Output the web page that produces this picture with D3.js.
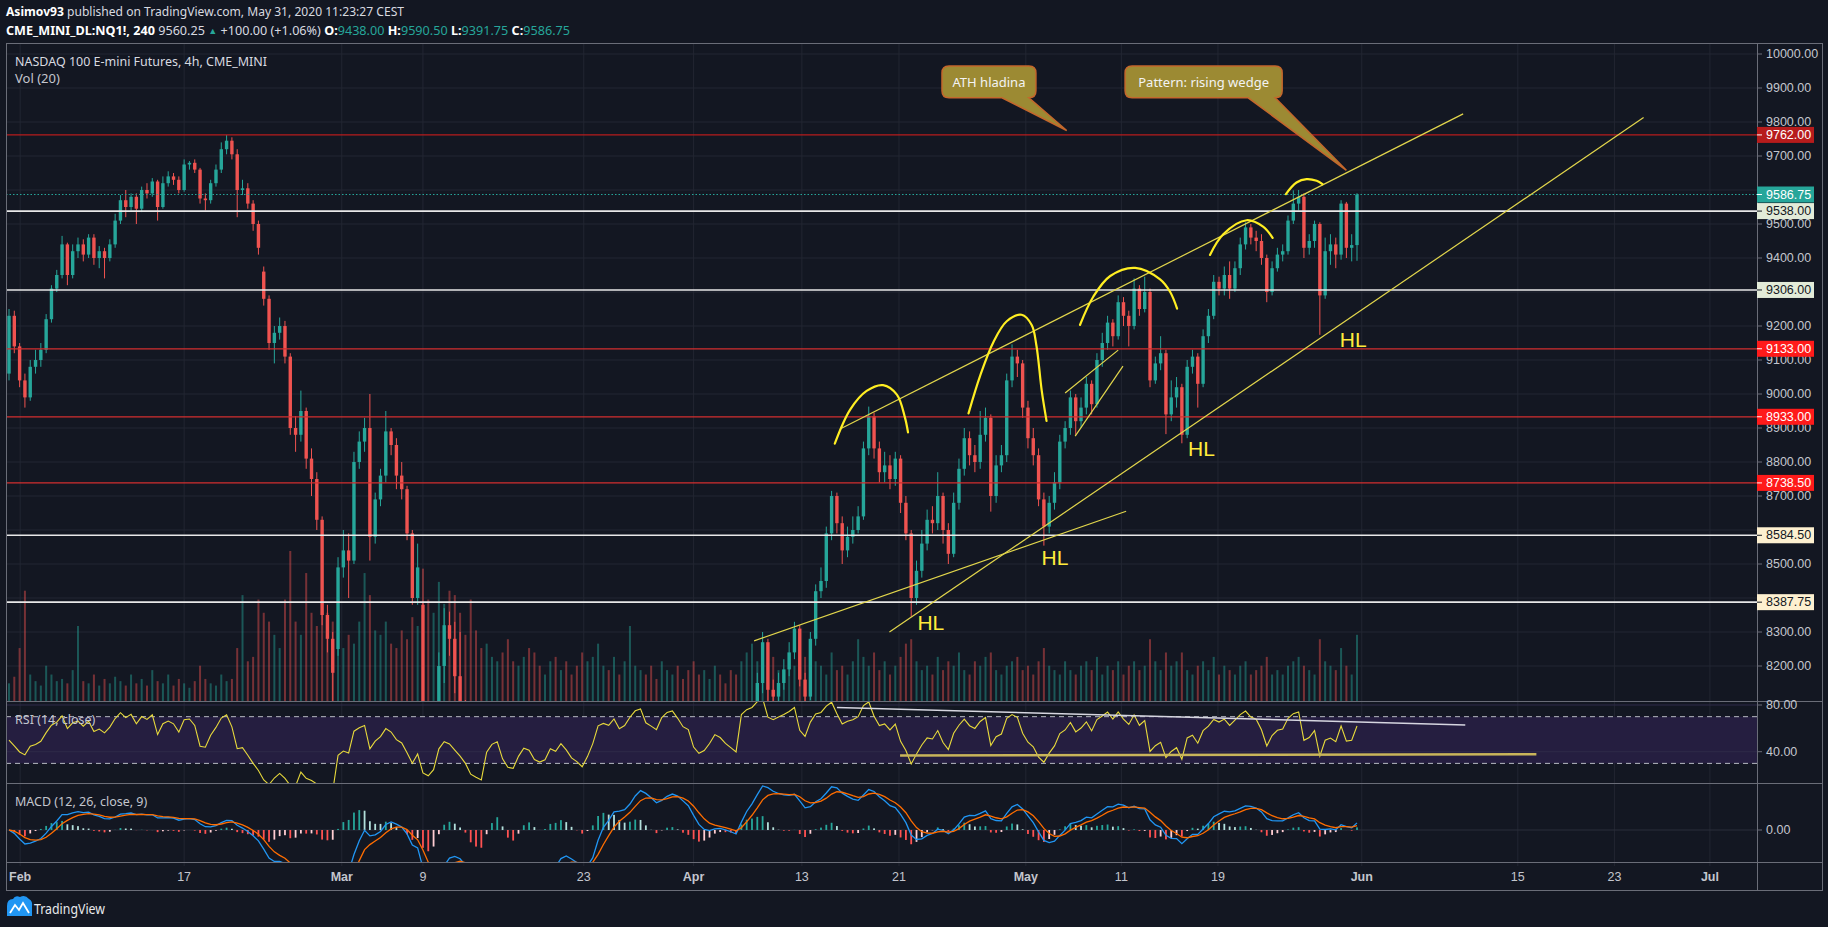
<!DOCTYPE html>
<html><head><meta charset="utf-8">
<script src="https://cdn.jsdelivr.net/npm/d3@7"></script>
<style>html,body{margin:0;padding:0;background:#131722;overflow:hidden}svg{display:block}</style>
</head><body><svg id="c" width="1828" height="927"></svg>
<script>
// ---------------- DATA ----------------
const opens=[
9060,9230,9140,9040,8990,9080,9100,9130,9220,9310,
9350,9440,9350,9420,9440,9410,9460,9400,9420,9400,
9440,9510,9570,9550,9580,9545,9600,9590,9625,9550,
9620,9640,9630,9600,9675,9680,9660,9575,9570,9620,
9660,9720,9745,9705,9600,9605,9560,9500,9360,9280,
9150,9180,9200,9110,8900,8880,8950,8810,8750,8630,
8350,8280,8250,8490,8540,8510,8800,8860,8900,8580,
8690,8760,8890,8850,8760,8720,8590,8400,8380,7980,
7850,7920,8200,8320,8280,8170,8050,7880,7500,7350,
7200,7600,7750,7450,7350,7000,6950,7150,7300,7250,
7000,6920,6950,7100,7050,7150,7050,6900,6820,6700,
6800,6950,7250,7300,7280,7400,7300,7350,7500,7650,
7700,7580,7550,7520,7700,7800,7830,7780,7720,7700,
7550,7480,7500,7550,7620,7600,7560,7530,7500,7850,
7950,8000,8150,8270,8130,8110,8150,8190,8240,8310,
8160,8110,8280,8420,8450,8590,8700,8620,8540,8580,
8600,8640,8840,8935,8840,8770,8790,8750,8810,8680,
8590,8400,8480,8560,8630,8620,8700,8600,8530,8680,
8780,8870,8820,8800,8880,8930,8700,8790,8820,9040,
9110,9090,8960,8870,8820,8690,8610,8680,8740,8860,
8900,8990,8920,8960,9030,8970,9100,9150,9210,9170,
9270,9230,9200,9310,9250,9300,9040,9090,9120,8940,
8990,9020,8880,9080,9110,9030,9170,9230,9330,9310,
9350,9310,9370,9440,9490,9460,9450,9400,9300,9370,
9410,9420,9510,9560,9580,9430,9450,9500,9290,9420,
9440,9410,9560,9430,9438];
const highs=[
9250,9245,9150,9060,9100,9130,9150,9235,9320,9365,
9465,9445,9440,9460,9455,9470,9470,9435,9430,9455,
9530,9585,9600,9590,9590,9610,9620,9635,9630,9640,
9655,9650,9640,9690,9685,9690,9665,9590,9630,9675,
9740,9762,9755,9720,9630,9620,9570,9510,9375,9290,
9200,9225,9215,9120,8935,9010,8960,8840,8770,8640,
8380,8300,8520,8600,8590,8830,8890,8930,9000,8710,
8780,8950,8900,8870,8800,8730,8600,8560,8390,8050,
8000,8240,8370,8360,8330,8300,8100,7900,7550,7400,
7680,7850,7900,7500,7400,7100,7250,7400,7380,7280,
7050,7050,7180,7150,7230,7200,7080,6950,6850,6880,
7000,7290,7350,7360,7480,7430,7400,7540,7680,7740,
7720,7620,7600,7730,7830,7870,7860,7800,7760,7720,
7580,7540,7600,7660,7650,7630,7590,7560,7880,7990,
8060,8180,8300,8280,8160,8180,8220,8270,8330,8320,
8180,8300,8440,8490,8610,8715,8710,8640,8610,8640,
8670,8860,8963,8945,8860,8830,8820,8830,8820,8700,
8600,8510,8600,8660,8670,8770,8710,8620,8710,8810,
8900,8890,8850,8950,8960,8940,8820,8850,9060,9146,
9130,9100,8980,8900,8840,8710,8700,8770,8880,8920,
9010,9000,8990,9050,9040,9120,9180,9230,9220,9290,
9285,9245,9340,9320,9345,9310,9110,9170,9130,9040,
9050,9030,9100,9130,9120,9190,9250,9350,9345,9375,
9390,9390,9460,9505,9500,9480,9470,9410,9390,9430,
9440,9525,9599,9600,9590,9470,9510,9505,9460,9470,
9460,9570,9565,9470,9590.5];
const lows=[
9040,9120,9020,8960,8980,9060,9080,9120,9210,9300,
9340,9320,9340,9400,9390,9400,9380,9370,9340,9390,
9430,9500,9520,9540,9500,9535,9575,9580,9510,9545,
9610,9615,9590,9595,9660,9650,9560,9540,9560,9610,
9650,9705,9690,9520,9585,9545,9480,9410,9260,9130,
9090,9160,9090,8880,8830,8860,8780,8700,8600,8320,
8240,8050,8230,8460,8400,8500,8780,8830,8510,8560,
8670,8740,8820,8720,8690,8570,8380,8380,7750,7780,
7800,7900,8150,8230,8120,8000,7850,7450,7200,7100,
7150,7550,7650,7250,6950,6880,6900,7100,7150,6920,
6850,6880,6920,6980,7000,6980,6850,6750,6630,6650,
6760,6930,7200,7220,7250,7250,7270,7330,7480,7620,
7540,7500,7480,7500,7680,7770,7740,7680,7650,7500,
7440,7450,7470,7530,7560,7520,7490,7460,7480,7820,
7920,7980,8120,8080,8080,8090,8130,8170,8220,8140,
8080,8100,8260,8400,8430,8570,8590,8500,8520,8560,
8590,8630,8820,8810,8740,8740,8720,8730,8650,8570,
8345,8380,8460,8540,8590,8600,8560,8500,8520,8660,
8760,8790,8770,8780,8860,8654,8680,8770,8800,9020,
9050,8930,8840,8790,8670,8554,8590,8660,8720,8840,
8880,8880,8900,8940,8940,8960,9080,9130,9140,9160,
9200,9140,9190,9230,9240,9020,9030,9070,8882,8920,
8960,8855,8870,9060,8960,9020,9150,9220,9290,9290,
9280,9300,9350,9425,9440,9420,9380,9270,9290,9360,
9390,9410,9500,9540,9400,9410,9430,9174,9280,9380,
9370,9395,9400,9390,9391.75];
const closes=[
9230,9140,9040,8990,9080,9100,9130,9220,9310,9350,
9440,9350,9420,9440,9410,9460,9400,9420,9400,9440,
9510,9570,9550,9580,9545,9600,9590,9625,9550,9620,
9640,9630,9600,9675,9680,9660,9575,9570,9620,9660,
9720,9745,9705,9600,9605,9560,9500,9430,9280,9150,
9180,9200,9110,8900,8880,8950,8810,8750,8630,8350,
8280,8180,8490,8540,8510,8800,8860,8900,8580,8690,
8760,8890,8850,8760,8720,8590,8400,8490,7980,7850,
7920,8200,8320,8280,8170,8050,7880,7500,7350,7200,
7600,7750,7800,7350,7000,6950,7150,7300,7250,7000,
6920,6950,7100,7050,7150,7050,6900,6820,6700,6800,
6950,7250,7300,7280,7400,7300,7350,7500,7650,7700,
7580,7550,7520,7700,7800,7830,7780,7720,7700,7550,
7480,7500,7550,7620,7600,7560,7530,7500,7850,7950,
8000,8150,8270,8130,8110,8150,8190,8240,8310,8160,
8110,8280,8420,8450,8590,8700,8620,8540,8580,8600,
8640,8840,8935,8840,8770,8790,8750,8810,8680,8590,
8400,8480,8560,8630,8620,8700,8600,8530,8680,8780,
8870,8820,8800,8880,8930,8700,8790,8820,9040,9110,
9090,8960,8870,8820,8690,8610,8680,8740,8860,8900,
8990,8920,8960,9030,8970,9100,9150,9210,9170,9270,
9230,9200,9310,9250,9300,9040,9090,9120,8940,8990,
9020,8880,9080,9110,9030,9170,9230,9330,9310,9350,
9310,9370,9440,9490,9460,9450,9400,9300,9370,9410,
9420,9510,9560,9580,9430,9450,9500,9290,9420,9440,
9410,9560,9430,9438,9586.75];
const volumes=[
40,55,120,250,60,45,35,80,60,45,
50,40,70,170,45,40,60,35,50,40,
55,45,35,60,40,50,35,70,45,40,
60,35,50,40,30,45,80,50,40,35,
60,45,50,120,240,90,100,230,200,180,
150,120,230,340,180,150,290,200,170,220,
200,180,210,120,150,130,180,290,240,160,
150,180,130,120,160,140,190,170,300,230,
200,270,220,250,240,200,150,230,160,120,
130,100,90,110,140,90,80,100,120,110,
80,60,90,100,70,90,60,80,110,90,
100,130,80,70,100,60,90,170,80,70,
60,80,50,90,70,60,80,50,70,90,
60,70,50,80,60,40,70,60,90,110,
130,90,110,80,100,70,60,90,80,120,
100,70,90,80,60,110,70,80,60,90,
140,100,80,110,70,90,60,80,100,130,
140,90,70,80,60,100,70,90,80,110,
70,60,90,80,100,110,70,60,80,90,
100,70,80,60,90,120,80,70,60,90,
70,60,80,90,70,100,60,80,70,90,
60,80,90,70,80,140,90,70,110,80,
90,110,70,60,80,90,70,100,60,80,
70,60,80,90,60,70,80,100,60,70,
60,80,90,100,80,70,60,140,90,80,
70,120,80,60,150];

const priceTicks=d3.range(8200,10001,100);
const timeTickPos=[2.1,33,62.7,78,108.3,129,149.4,167.7,191.6,209.6,227.8,254.9,284.3,302.5,320.5];
const timeTickLabels=["Feb","17","Mar","9","23","Apr","13","21","May","11","19","Jun","15","23","Jul"];
const levelPrices=[9762,9586.75,9538,9306,9133,8933,8738.5,8584.5,8387.75];
const levelKinds=["ath","last","sr","sr","res","res","res","sup","sup"];
const rsiTicks=[80,40];
const rsiBands=[70,30];
// indicator settings as labelled on the chart (4h bars); each data point here spans two 4h bars
const rsiLength=14, macdFast=12, macdSlow=26, macdSignal=9, barsPerPoint=2;

const trendLines=[
 [[156.6,8897],[274.0,9824]],
 [[165.9,8300],[308.0,9813]],
 [[140.4,8274],[210.5,8655]],
 [[199.0,9003],[209.0,9129]],
 [[200.9,8876],[209.9,9082]]
];
const arcs=[
 [[155.6,8854],[158.5,8954],[161.6,9009],[164.7,9026],[167.3,8998],[168.8,8932],[169.4,8887]],
 [[180.8,8943],[183.0,9054],[185.5,9153],[188.0,9214],[190.8,9233],[192.7,9203],[193.6,9142],[194.6,9009],[195.5,8921]],
 [[201.8,9203],[204.3,9286],[207.5,9347],[212.2,9371],[216.9,9337],[218.8,9300],[220.1,9251]],
 [[226.3,9409],[228.8,9470],[233.2,9511],[236.3,9492],[238.1,9459]],
 [[240.6,9588],[242.6,9622],[244.5,9632],[246.4,9627],[247.5,9617]]
];
const hlLabels=[[173.7,8329],[197.1,8518],[224.7,8839],[253.3,9160]];
const calloutTexts=["ATH hladina","Pattern: rising wedge"];
const calloutBoxI=[[175.8,193.5],[210.3,239.9]];
const calloutBoxP=[[9965,9871],[9965,9871]];
const calloutTip=[[199.3,9775],[252.0,9658]];
const rsiTrend=[[[156.0,77.8],[274.4,62.9]]];
const rsiSupport=[[[167.9,36.7],[287.8,37.8]]];

// ---------------- LAYOUT / STYLE ----------------
const W=1828,H=927;
const L=6,R=1757,RB=1822,T=43,MB=701,RSIB=783,MACDB=862,AXB=890;
const BG="#131722",UP="#26a69a",DN="#ef5350",GRID="#222632",FRAME="#6a6d78",TXT="#c3c6ce";
const levelStyle={
 ath:{line:"#b71c1c",w:1.4,dash:null,box:"#b71c1c",txt:"#ffffff"},
 last:{line:UP,w:1,dash:"1.5,2",box:"#26a69a",txt:"#ffffff"},
 sr:{line:"#e8e8e8",w:1.6,dash:null,box:"#e2ebd8",txt:"#131722"},
 res:{line:"#d32f2f",w:1.2,dash:null,box:"#ff1a1a",txt:"#ffffff"},
 sup:{line:"#e8e8e8",w:1.6,dash:null,box:"#fdf0d0",txt:"#131722"}
};
const FONT="'Liberation Sans', Arial, sans-serif";
const UIFONT="'Noto Sans', 'Open Sans', sans-serif";

const svg=d3.select("#c");
svg.append("rect").attr("width",W).attr("height",H).attr("fill",BG);

const x=d3.scaleLinear().domain([0,254]).range([9,1357]);
const y=d3.scaleLinear().domain([8200,10000]).range([666,54]);
const yv=d3.scaleLinear().domain([0,340]).range([MB,MB-150]);
const yr=d3.scaleLinear().domain([40,80]).range([751.7,705]);

const defs=svg.append("defs");
function clip(id,x0,y0,x1,y1){defs.append("clipPath").attr("id",id).append("rect").attr("x",x0).attr("y",y0).attr("width",x1-x0).attr("height",y1-y0);}
clip("cm",L,T,R,MB);clip("cr",L,MB,R,RSIB);clip("cd",L,RSIB,R,MACDB);

// ---------------- GRID ----------------
const grid=svg.append("g");
timeTickPos.forEach(t=>{const xx=x(t); if(xx<R) grid.append("line").attr("x1",xx).attr("x2",xx).attr("y1",T).attr("y2",MACDB+4).attr("stroke",GRID).attr("stroke-width",1);});
priceTicks.forEach(p=>grid.append("line").attr("x1",L).attr("x2",R).attr("y1",y(p)).attr("y2",y(p)).attr("stroke",GRID));

// ---------------- MAIN PANE ----------------
const main=svg.append("g").attr("clip-path","url(#cm)");
const idx=d3.range(closes.length);
main.append("g").selectAll("rect").data(idx).join("rect")
 .attr("x",i=>x(i)-1).attr("width",2).attr("y",i=>yv(volumes[i])).attr("height",i=>MB-yv(volumes[i]))
 .attr("fill",i=>closes[i]>=opens[i]?UP:DN).attr("opacity",0.45);

const cg=main.append("g");
cg.selectAll("line").data(idx).join("line")
 .attr("x1",i=>x(i)).attr("x2",i=>x(i)).attr("y1",i=>y(highs[i])).attr("y2",i=>y(lows[i]))
 .attr("stroke",i=>closes[i]>=opens[i]?UP:DN).attr("stroke-width",1);
cg.selectAll("rect").data(idx).join("rect")
 .attr("x",i=>x(i)-1.7).attr("width",3.4)
 .attr("y",i=>y(Math.max(opens[i],closes[i])))
 .attr("height",i=>Math.max(1,Math.abs(y(opens[i])-y(closes[i]))))
 .attr("fill",i=>closes[i]>=opens[i]?UP:DN);

levelPrices.forEach((p,k)=>{const s=levelStyle[levelKinds[k]];
 const ln=main.append("line").attr("x1",L).attr("x2",R).attr("y1",y(p)).attr("y2",y(p)).attr("stroke",s.line).attr("stroke-width",s.w);
 if(s.dash) ln.attr("stroke-dasharray",s.dash);});

const tl=d3.line().x(d=>x(d[0])).y(d=>y(d[1]));
trendLines.forEach(t=>main.append("path").attr("d",tl(t)).attr("fill","none").attr("stroke","#e2d64c").attr("stroke-width",1.2));
const al=d3.line().x(d=>x(d[0])).y(d=>y(d[1])).curve(d3.curveCatmullRom.alpha(0.5));
arcs.forEach(a=>main.append("path").attr("d",al(a)).attr("fill","none").attr("stroke","#ffee22").attr("stroke-width",2.2).attr("stroke-linecap","round"));

hlLabels.forEach(h=>main.append("text").attr("x",x(h[0])).attr("y",y(h[1])).attr("text-anchor","middle").attr("dominant-baseline","central")
 .attr("fill","#ffeb3b").attr("font-family",FONT).attr("font-size",21).text("HL"));

function cpath(x0,y0,x1,y1,r,b0,b1,tx,ty){
 return `M${x0+r},${y0}H${x1-r}Q${x1},${y0} ${x1},${y0+r}V${y1-r}Q${x1},${y1} ${x1-r},${y1}H${b1}L${tx},${ty}L${b0},${y1}H${x0+r}Q${x0},${y1} ${x0},${y1-r}V${y0+r}Q${x0},${y0} ${x0+r},${y0}Z`;}
calloutTexts.forEach((t,k)=>{
 const x0=x(calloutBoxI[k][0]),x1=x(calloutBoxI[k][1]),y0=y(calloutBoxP[k][0]),y1=y(calloutBoxP[k][1]);
 const tx=x(calloutTip[k][0]),ty=y(calloutTip[k][1]);
 main.append("path").attr("d",cpath(x0,y0,x1,y1,7,x1-34,x1-7,tx,ty)).attr("fill","#9c8a33").attr("stroke","#c4672c").attr("stroke-width",1.5);
 main.append("text").attr("x",(x0+x1)/2).attr("y",(y0+y1)/2).attr("text-anchor","middle").attr("dominant-baseline","central")
  .attr("fill","#f3f3f3").attr("font-family",UIFONT).attr("font-size",13).text(t);
});

// ---------------- RSI ----------------
function rsiCalc(c,n){
 const seed=d3.mean(d3.range(1,Math.min(c.length,Math.ceil(n)+1)),i=>Math.abs(c[i]-c[i-1]));
 let ag=seed,al2=seed;const out=[50];
 for(let i=1;i<c.length;i++){const d=c[i]-c[i-1],g=Math.max(d,0),l=Math.max(-d,0);
  ag+=(g-ag)/n; al2+=(l-al2)/n; out.push(al2===0?100:100-100/(1+ag/al2));}
 return out;}
const rsi=rsiCalc(closes,rsiLength/barsPerPoint);
const rg=svg.append("g").attr("clip-path","url(#cr)");
rg.append("rect").attr("x",L).attr("width",R-L).attr("y",yr(rsiBands[0])).attr("height",yr(rsiBands[1])-yr(rsiBands[0])).attr("fill","#251e40");
rsiTicks.forEach(v=>rg.append("line").attr("x1",L).attr("x2",R).attr("y1",yr(v)).attr("y2",yr(v)).attr("stroke","#2e2a48"));
rsiBands.forEach(v=>rg.append("line").attr("x1",L).attr("x2",R).attr("y1",yr(v)).attr("y2",yr(v)).attr("stroke","#b7bac2").attr("stroke-dasharray","5,4"));
const rl=d3.line().x((d,i)=>x(i)).y(d=>yr(d));
rg.append("path").attr("d",rl(rsi)).attr("fill","none").attr("stroke","#e8da3c").attr("stroke-width",1.1);
const rtl=d3.line().x(d=>x(d[0])).y(d=>yr(d[1]));
rsiTrend.forEach(t=>rg.append("path").attr("d",rtl(t)).attr("stroke","#d6d6e0").attr("stroke-width",1.5).attr("fill","none"));
rsiSupport.forEach(t=>rg.append("path").attr("d",rtl(t)).attr("stroke","#c9b55a").attr("stroke-width",2.5).attr("fill","none"));

// ---------------- MACD ----------------
function ema(a,n){const k=2/(n+1),o=[a[0]];for(let i=1;i<a.length;i++)o.push(a[i]*k+o[i-1]*(1-k));return o;}
const eF=ema(closes,macdFast/barsPerPoint),eS=ema(closes,macdSlow/barsPerPoint);
const macd=eF.map((v,i)=>v-eS[i]);
const sig=ema(macd,macdSignal/barsPerPoint);
const hist=macd.map((v,i)=>v-sig[i]);
const mMax=d3.max(macd.slice(140));
const ym=d3.scaleLinear().domain([0,mMax]).range([830,786]);
const mg=svg.append("g").attr("clip-path","url(#cd)");
mg.append("line").attr("x1",L).attr("x2",R).attr("y1",ym(0)).attr("y2",ym(0)).attr("stroke","#2a2e3a");
mg.selectAll("rect").data(idx).join("rect")
 .attr("x",i=>x(i)-0.9).attr("width",1.8)
 .attr("y",i=>Math.min(ym(0),ym(hist[i]))).attr("height",i=>Math.abs(ym(hist[i])-ym(0)))
 .attr("fill",i=>{const h=hist[i],p=i?hist[i-1]:0;return h>=0?(h>=p?"#26a69a":"#b2dfdb"):(h<p?"#ff5252":"#ffcdd2");});
const ml=d3.line().x((d,i)=>x(i)).y(d=>ym(d));
mg.append("path").attr("d",ml(macd)).attr("fill","none").attr("stroke","#2196f3").attr("stroke-width",1.3);
mg.append("path").attr("d",ml(sig)).attr("fill","none").attr("stroke","#ff6d00").attr("stroke-width",1.3);

// ---------------- FRAME ----------------
const fr=svg.append("g").attr("stroke",FRAME).attr("stroke-width",1).attr("fill","none");
fr.append("rect").attr("x",L+0.5).attr("y",T+0.5).attr("width",RB-L).attr("height",AXB-T);
[MB,RSIB,MACDB].forEach(v=>fr.append("line").attr("x1",L).attr("x2",RB).attr("y1",v+0.5).attr("y2",v+0.5));
fr.append("line").attr("x1",R+0.5).attr("x2",R+0.5).attr("y1",T).attr("y2",AXB);

// ---------------- AXES ----------------
const ax=svg.append("g").attr("font-family",FONT).attr("font-size",12.5).attr("fill",TXT);
const BOXH=16;
priceTicks.forEach(p=>{
 const hidden=levelPrices.some(lp=>Math.abs(y(lp)-y(p))<BOXH/2+2);
 ax.append("line").attr("x1",R).attr("x2",R+5).attr("y1",y(p)).attr("y2",y(p)).attr("stroke",FRAME);
 if(!hidden) ax.append("text").attr("x",R+9).attr("y",y(p)).attr("dominant-baseline","central").text(d3.format(".2f")(p));});
rsiTicks.forEach(v=>{ax.append("line").attr("x1",R).attr("x2",R+5).attr("y1",yr(v)).attr("y2",yr(v)).attr("stroke",FRAME);
 ax.append("text").attr("x",R+9).attr("y",yr(v)).attr("dominant-baseline","central").text(d3.format(".2f")(v));});
ax.append("line").attr("x1",R).attr("x2",R+5).attr("y1",ym(0)).attr("y2",ym(0)).attr("stroke",FRAME);
ax.append("text").attr("x",R+9).attr("y",ym(0)).attr("dominant-baseline","central").text("0.00");
levelPrices.forEach((p,k)=>{const s=levelStyle[levelKinds[k]];
 ax.append("rect").attr("x",R).attr("y",y(p)-BOXH/2).attr("width",57).attr("height",BOXH).attr("fill",s.box);
 ax.append("line").attr("x1",R).attr("x2",R+5).attr("y1",y(p)).attr("y2",y(p)).attr("stroke",s.txt);
 ax.append("text").attr("x",R+9).attr("y",y(p)).attr("dominant-baseline","central").attr("fill",s.txt).text(d3.format(".2f")(p));});
timeTickLabels.forEach((t,k)=>{
 ax.append("text").attr("x",x(timeTickPos[k])).attr("y",877).attr("text-anchor","middle").attr("dominant-baseline","central")
  .attr("font-weight",isNaN(+t)?600:400).text(t);});

// ---------------- TEXT ----------------
const tx=svg.append("g").attr("font-family",UIFONT).attr("fill","#d8dae0");
const h1=tx.append("text").attr("x",6).attr("y",11).attr("dominant-baseline","central").attr("font-size",12.5)
 .attr("textLength",398).attr("lengthAdjust","spacingAndGlyphs");
h1.append("tspan").attr("font-weight",700).attr("fill","#ffffff").text("Asimov93");
h1.append("tspan").text(" published on TradingView.com, May 31, 2020 11:23:27 CEST");
const h2=tx.append("text").attr("x",6).attr("y",30).attr("dominant-baseline","central").attr("font-size",12.5)
 .attr("textLength",564).attr("lengthAdjust","spacingAndGlyphs");
const parts=[["CME_MINI_DL:NQ1!, 240",700,"#ffffff",12.5],[" 9560.25 ",400,"#d8dae0",12.5],["▲",400,UP,9],[" +100.00 (+1.06%) ",400,"#d8dae0",12.5],
 ["O:",700,"#ffffff",12.5],["9438.00",400,UP,12.5],[" H:",700,"#ffffff",12.5],["9590.50",400,UP,12.5],[" L:",700,"#ffffff",12.5],["9391.75",400,UP,12.5],[" C:",700,"#ffffff",12.5],["9586.75",400,UP,12.5]];
parts.forEach(p=>h2.append("tspan").attr("font-weight",p[1]).attr("fill",p[2]).attr("font-size",p[3]).text(p[0]));
tx.append("text").attr("x",15).attr("y",61).attr("dominant-baseline","central").attr("font-size",13)
 .attr("textLength",252).attr("lengthAdjust","spacingAndGlyphs").text("NASDAQ 100 E-mini Futures, 4h, CME_MINI");
tx.append("text").attr("x",15).attr("y",78).attr("dominant-baseline","central").attr("font-size",13).attr("fill","#c3c6ce").text("Vol (20)");
tx.append("text").attr("x",15).attr("y",719).attr("dominant-baseline","central").attr("font-size",12.5).attr("fill","#c3c6ce").text("RSI (14, close)");
tx.append("text").attr("x",15).attr("y",801).attr("dominant-baseline","central").attr("font-size",12.5).attr("fill","#c3c6ce").text("MACD (12, 26, close, 9)");

const lg=svg.append("g");
lg.append("path").attr("d","M7,916 L7,906 Q7,899 13,899 Q15,895 20,897 Q25,894 29,899 Q33,901 32,907 L32,916 Z").attr("fill","#2196f3");
lg.append("path").attr("d","M10,913 L15,905 L19,910 L23,903 L29,913").attr("fill","none").attr("stroke","#ffffff").attr("stroke-width",1.8);
tx.append("text").attr("x",34).attr("y",908).attr("dominant-baseline","central").attr("font-size",14).attr("fill","#e8e9ec")
 .attr("textLength",71).attr("lengthAdjust","spacingAndGlyphs").text("TradingView");
</script></body></html>
